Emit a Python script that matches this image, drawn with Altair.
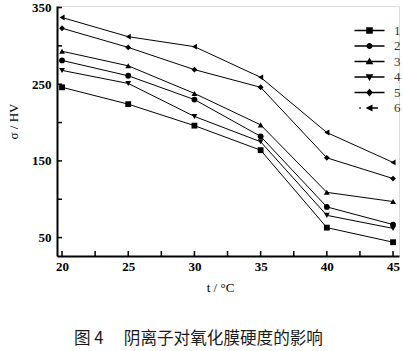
import altair as alt
import pandas as pd

temps = [20, 25, 30, 35, 40, 45]
series_names = ["1", "2", "3", "4", "5", "6"]
s1 = [246, 224, 196, 164, 63, 44]
s2 = [281, 261, 230, 182, 90, 67]
s3 = [293, 274, 238, 197, 109, 97]
s4 = [268, 251, 208, 175, 79, 62]
s5 = [323, 298, 269, 246, 154, 127]
s6 = [337, 312, 299, 259, 187, 148]
all_series = [s1, s2, s3, s4, s5, s6]

x_ticks = [20, 25, 30, 35, 40, 45]
x_minor = [20, 22.5, 25, 27.5, 30, 32.5, 35, 37.5, 40, 42.5, 45]
y_ticks = [50, 150, 250, 350]
y_minor = [50, 100, 150, 200, 250, 300, 350]

rows = []
for name, vals in zip(series_names, all_series):
    for t, v in zip(temps, vals):
        rows.append({"T": t, "value": v, "series": name})
df = pd.DataFrame(rows)
xtick_df = pd.DataFrame({"t": x_minor})
ytick_df = pd.DataFrame({"v": y_minor})

plot_shapes = ["square", "circle", "triangle-up", "triangle-down", "diamond", "triangle-left"]
bar = "M-5,-0.28H5V0.28H-5Z"
legend_shapes = [
    bar + "M-1.1,-1.1H1.1V1.1H-1.1Z",
    bar + "M-1,0A1,1 0 1,1 1,0A1,1 0 1,1 -1,0Z",
    bar + "M0,-1.3L1.3,0.9H-1.3Z",
    bar + "M0,1.3L-1.3,-0.9H1.3Z",
    bar + "M0,-1.3L1.1,0L0,1.3L-1.1,0Z",
    "M-3.4,-0.28H-2.9V0.28H-3.4ZM1,-0.28H2.8V0.28H1ZM-1.3,0L1,-1.2V1.2Z",
]

xs = alt.Scale(domain=[19.62, 45.45], nice=False, zero=False)
ys = alt.Scale(domain=[26, 352], nice=False, zero=False)

serif = "Liberation Serif"

base = alt.Chart(df)

lines = base.mark_line(color="black", strokeWidth=1).encode(
    x=alt.X("T:Q", scale=xs, axis=alt.Axis(
        values=x_ticks, tickSize=0, domainWidth=2, domainColor="black",
        labelFont=serif, labelFontSize=13, labelFontWeight="bold", labelColor="black",
        labelPadding=4, title="t / °C", titleFont=serif, titleFontSize=13,
        titleFontWeight="normal", titleColor="black", titlePadding=8, titleX=163,
        grid=False)),
    y=alt.Y("value:Q", scale=ys, axis=alt.Axis(
        values=y_ticks, tickSize=0, domainWidth=2, domainColor="black",
        labelFont=serif, labelFontSize=13, labelFontWeight="bold", labelColor="black",
        labelPadding=6, title="σ / HV", titleFont=serif, titleFontSize=13,
        titleFontWeight="normal", titleColor="black", titleX=-37, titleY=115, grid=False)),
    detail="series:N",
)

points = base.mark_point(filled=True, color="black", size=34, opacity=1).encode(
    x=alt.X("T:Q", scale=xs, axis=None),
    y=alt.Y("value:Q", scale=ys, axis=None),
    shape=alt.Shape("series:N", scale=alt.Scale(domain=series_names, range=plot_shapes), legend=None),
)

xticks = alt.Chart(xtick_df).mark_rule(color="black", strokeWidth=1.5).encode(
    x=alt.X("t:Q", scale=xs, axis=None),
    y=alt.value(250), y2=alt.value(245),
)
yticks = alt.Chart(ytick_df).mark_rule(color="black", strokeWidth=1.5).encode(
    y=alt.Y("v:Q", scale=ys, axis=None),
    x=alt.value(0), x2=alt.value(5),
)

legend_layer = base.mark_point(filled=True, color="black", size=36, opacity=1).encode(
    x=alt.X("T:Q", scale=xs, axis=None),
    y=alt.Y("value:Q", scale=ys, axis=None),
    shape=alt.Shape("series:N", scale=alt.Scale(domain=series_names, range=legend_shapes),
                    legend=alt.Legend(
                        title=None, orient="none", legendX=306, legendY=18,
                        padding=0, symbolSize=36, labelOffset=18, rowPadding=1.5,
                        labelFont=serif, labelFontSize=13, labelColor="#333333",
                        symbolFillColor="black", symbolStrokeWidth=0)),
).transform_filter("datum.T < 0")

chart = alt.layer(lines, points, xticks, yticks, legend_layer).resolve_scale(
    shape="independent"
).resolve_axis(
    x="independent", y="independent"
).properties(
    width=342, height=250,
    autosize=alt.AutoSizeParams(type="none"),
    padding={"left": 57, "top": 6, "right": 4, "bottom": 95},
    title=alt.TitleParams(
        text="图 4　  阴离子对氧化膜硬度的影响", orient="bottom", anchor="start",
        dx=67, offset=37, font="Noto Sans CJK SC", fontSize=16.6, fontWeight="normal",
        color="#1a1a1a"),
).configure_view(
    stroke="black", strokeWidth=1.5
).configure(background="white")

chart.save("out.html", embed_options={"renderer": "svg", "actions": False})
